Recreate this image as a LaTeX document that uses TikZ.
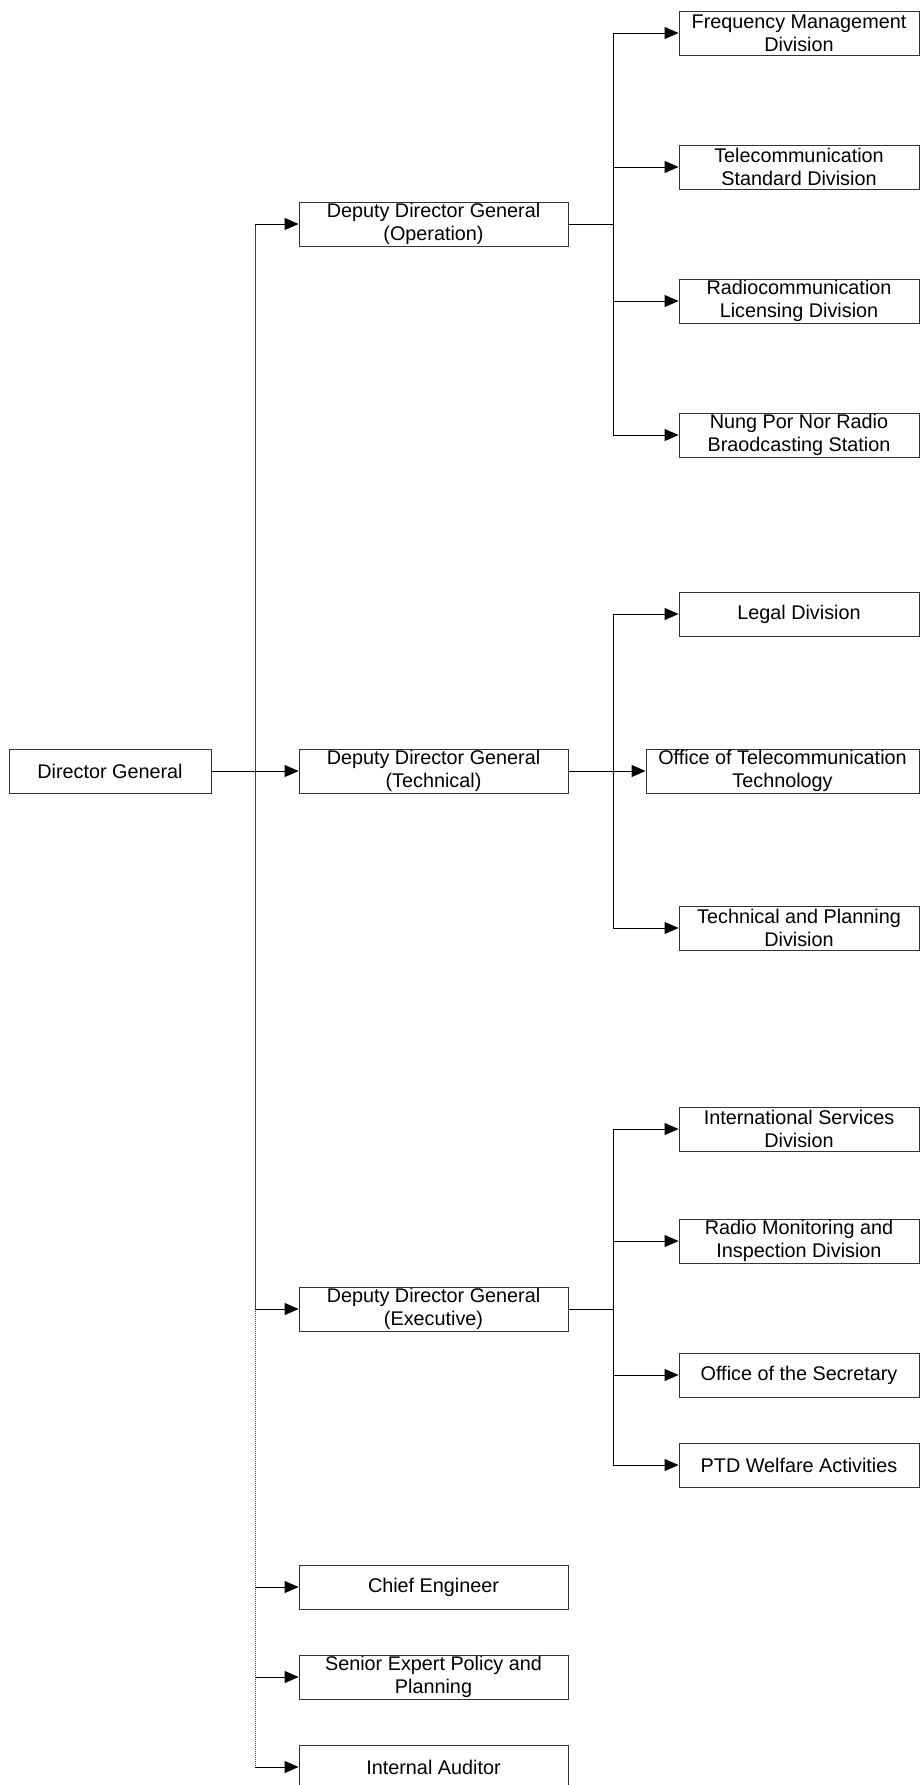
\documentclass[tikz,border=0pt]{standalone}
\usepackage{fontspec}
\setmainfont{Liberation Sans}
\usetikzlibrary{arrows.meta}
\begin{document}
\begin{tikzpicture}[x=1pt,y=-1pt,
  box/.style={draw=black!80,line width=0.9pt,inner sep=0pt,align=center,
    minimum height=44pt,font=\fontsize{19.8}{22.6}\selectfont},
  midbox/.style={box,minimum width=269pt},
  rbox/.style={box,minimum width=240pt},
  line/.style={line width=0.9pt,draw=black},
  arr/.style={line,-{Triangle[length=14pt,width=12pt]}}]
\useasboundingbox (0,0) rectangle (920,1785);
% main nodes
\node[box,minimum width=202pt] (dg) at (110,771) {Director General};
\node[midbox] (ddgO) at (433.5,224) {Deputy Director General\\(Operation)};
\node[midbox] (ddgT) at (433.5,771) {Deputy Director General\\(Technical)};
\node[midbox] (ddgE) at (433.5,1309) {Deputy Director General\\(Executive)};
\node[midbox] (chief) at (433.5,1587) {Chief Engineer};
\node[midbox] (senior) at (433.5,1677) {Senior Expert Policy and\\Planning};
\node[midbox] (audit) at (433.5,1767) {Internal Auditor};
% operation subs
\node[rbox] (freq) at (799,33) {Frequency Management\\Division};
\node[rbox] (tstd) at (799,167) {Telecommunication\\Standard Division};
\node[rbox] (radio) at (799,301) {Radiocommunication\\Licensing Division};
\node[rbox] (nung) at (799,435) {Nung Por Nor Radio\\Braodcasting Station};
% technical subs
\node[rbox] (legal) at (799,614) {Legal Division};
\node[box,minimum width=273pt] (otech) at (782.5,771) {Office of Telecommunication\\Technology};
\node[rbox] (tplan) at (799,928) {Technical and Planning\\Division};
% executive subs
\node[rbox] (intl) at (799,1129) {International Services\\Division};
\node[rbox] (rmon) at (799,1241) {Radio Monitoring and\\Inspection Division};
\node[rbox] (sec) at (799,1375) {Office of the Secretary};
\node[rbox] (ptd) at (799,1465) {PTD Welfare Activities};
% trunk coordinates
\coordinate (tr) at (255,0);
\coordinate (sr) at (613,0);
% main trunk
\draw[arr] (dg.east) -- (ddgT.west);
\draw[line,draw=black!75] (ddgO.west -| tr) -- (ddgE.west -| tr);
\draw[line,draw=black!70,dash pattern=on 1pt off 1pt] (ddgE.west -| tr) -- (audit.west -| tr);
\foreach \n in {ddgO,ddgE,chief,senior,audit}
  \draw[arr] (\n.west -| tr) -- (\n.west);
% operation branch
\draw[line] (ddgO.east) -- (ddgO.east -| sr);
\draw[line] (freq.west -| sr) -- (nung.west -| sr);
\foreach \n in {freq,tstd,radio,nung}
  \draw[arr] (\n.west -| sr) -- (\n.west);
% technical branch
\draw[arr] (ddgT.east) -- (otech.west);
\draw[line] (legal.west -| sr) -- (tplan.west -| sr);
\foreach \n in {legal,tplan}
  \draw[arr] (\n.west -| sr) -- (\n.west);
% executive branch
\draw[line] (ddgE.east) -- (ddgE.east -| sr);
\draw[line] (intl.west -| sr) -- (ptd.west -| sr);
\foreach \n in {intl,rmon,sec,ptd}
  \draw[arr] (\n.west -| sr) -- (\n.west);
\end{tikzpicture}
\end{document}
